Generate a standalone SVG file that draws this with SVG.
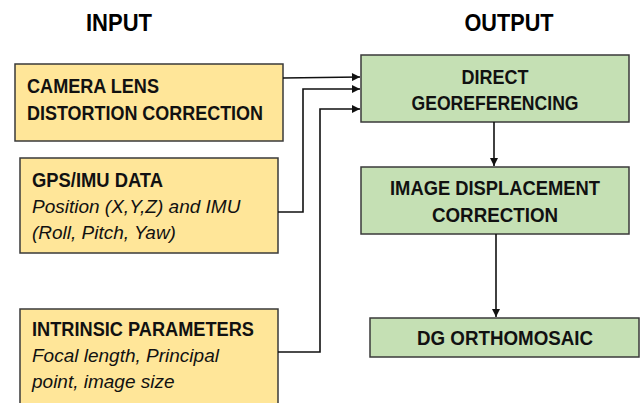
<svg xmlns="http://www.w3.org/2000/svg" width="641" height="403" viewBox="0 0 641 403">
<style>
.title{font-family:"Liberation Sans",Arial,sans-serif;font-weight:bold;font-size:24px;fill:#000}
.in{fill:#FFE699;stroke:#3a3a3a;stroke-width:1.5}
.out{fill:#C5E0B4;stroke:#3a3a3a;stroke-width:1.5}
.b{font-family:"Liberation Sans",Arial,sans-serif;font-weight:bold;font-size:20px;fill:#111}
.i{font-family:"Liberation Sans",Arial,sans-serif;font-style:italic;font-size:19px;fill:#111}
.c{fill:none;stroke:#111;stroke-width:1.6}
</style>
<defs>
<marker id="ah" viewBox="0 0 10 10" refX="10" refY="5" markerWidth="9" markerHeight="8" markerUnits="userSpaceOnUse" orient="auto">
<path d="M0,0 L10,5 L0,10 Z" fill="#111"/>
</marker>
</defs>
<text class="title" x="119" y="31" text-anchor="middle" textLength="66" lengthAdjust="spacingAndGlyphs">INPUT</text>
<text class="title" x="509" y="31" text-anchor="middle" textLength="89" lengthAdjust="spacingAndGlyphs">OUTPUT</text>
<g id="camera">
<rect class="in" x="15" y="64" width="268" height="77"/>
<text class="b" x="27" y="93" textLength="132" lengthAdjust="spacingAndGlyphs">CAMERA LENS</text>
<text class="b" x="27" y="120" textLength="236" lengthAdjust="spacingAndGlyphs">DISTORTION CORRECTION</text>
</g>
<g id="gps">
<rect class="in" x="20" y="158" width="258" height="95"/>
<text class="b" x="32" y="187" textLength="131" lengthAdjust="spacingAndGlyphs">GPS/IMU DATA</text>
<text class="i" x="32" y="213">Position (X,Y,Z) and IMU</text>
<text class="i" x="32" y="239">(Roll, Pitch, Yaw)</text>
</g>
<g id="intrinsic">
<rect class="in" x="20" y="309" width="258" height="100"/>
<text class="b" x="32" y="336" textLength="222" lengthAdjust="spacingAndGlyphs">INTRINSIC PARAMETERS</text>
<text class="i" x="32" y="362">Focal length, Principal</text>
<text class="i" x="32" y="388">point, image size</text>
</g>
<g id="dg">
<rect class="out" x="361" y="55" width="268" height="67"/>
<text class="b" x="495" y="84" text-anchor="middle" textLength="67" lengthAdjust="spacingAndGlyphs">DIRECT</text>
<text class="b" x="495" y="110" text-anchor="middle" textLength="167" lengthAdjust="spacingAndGlyphs">GEOREFERENCING</text>
</g>
<g id="idc">
<rect class="out" x="361" y="167" width="268" height="67"/>
<text class="b" x="495" y="195" text-anchor="middle" textLength="210" lengthAdjust="spacingAndGlyphs">IMAGE DISPLACEMENT</text>
<text class="b" x="495" y="222" text-anchor="middle" textLength="126" lengthAdjust="spacingAndGlyphs">CORRECTION</text>
</g>
<g id="ortho">
<rect class="out" x="370" y="318" width="269" height="39"/>
<text class="b" x="505" y="345" text-anchor="middle" textLength="176" lengthAdjust="spacingAndGlyphs">DG ORTHOMOSAIC</text>
</g>
<g id="connectors">
<path class="c" d="M283,78 L360,77" marker-end="url(#ah)"/>
<path class="c" d="M278,212 H303 V89 H360" marker-end="url(#ah)"/>
<path class="c" d="M278,352 H320 V109 H360" marker-end="url(#ah)"/>
<path class="c" d="M494,122 V166" marker-end="url(#ah)"/>
<path class="c" d="M496,234 V317" marker-end="url(#ah)"/>
</g>
</svg>
